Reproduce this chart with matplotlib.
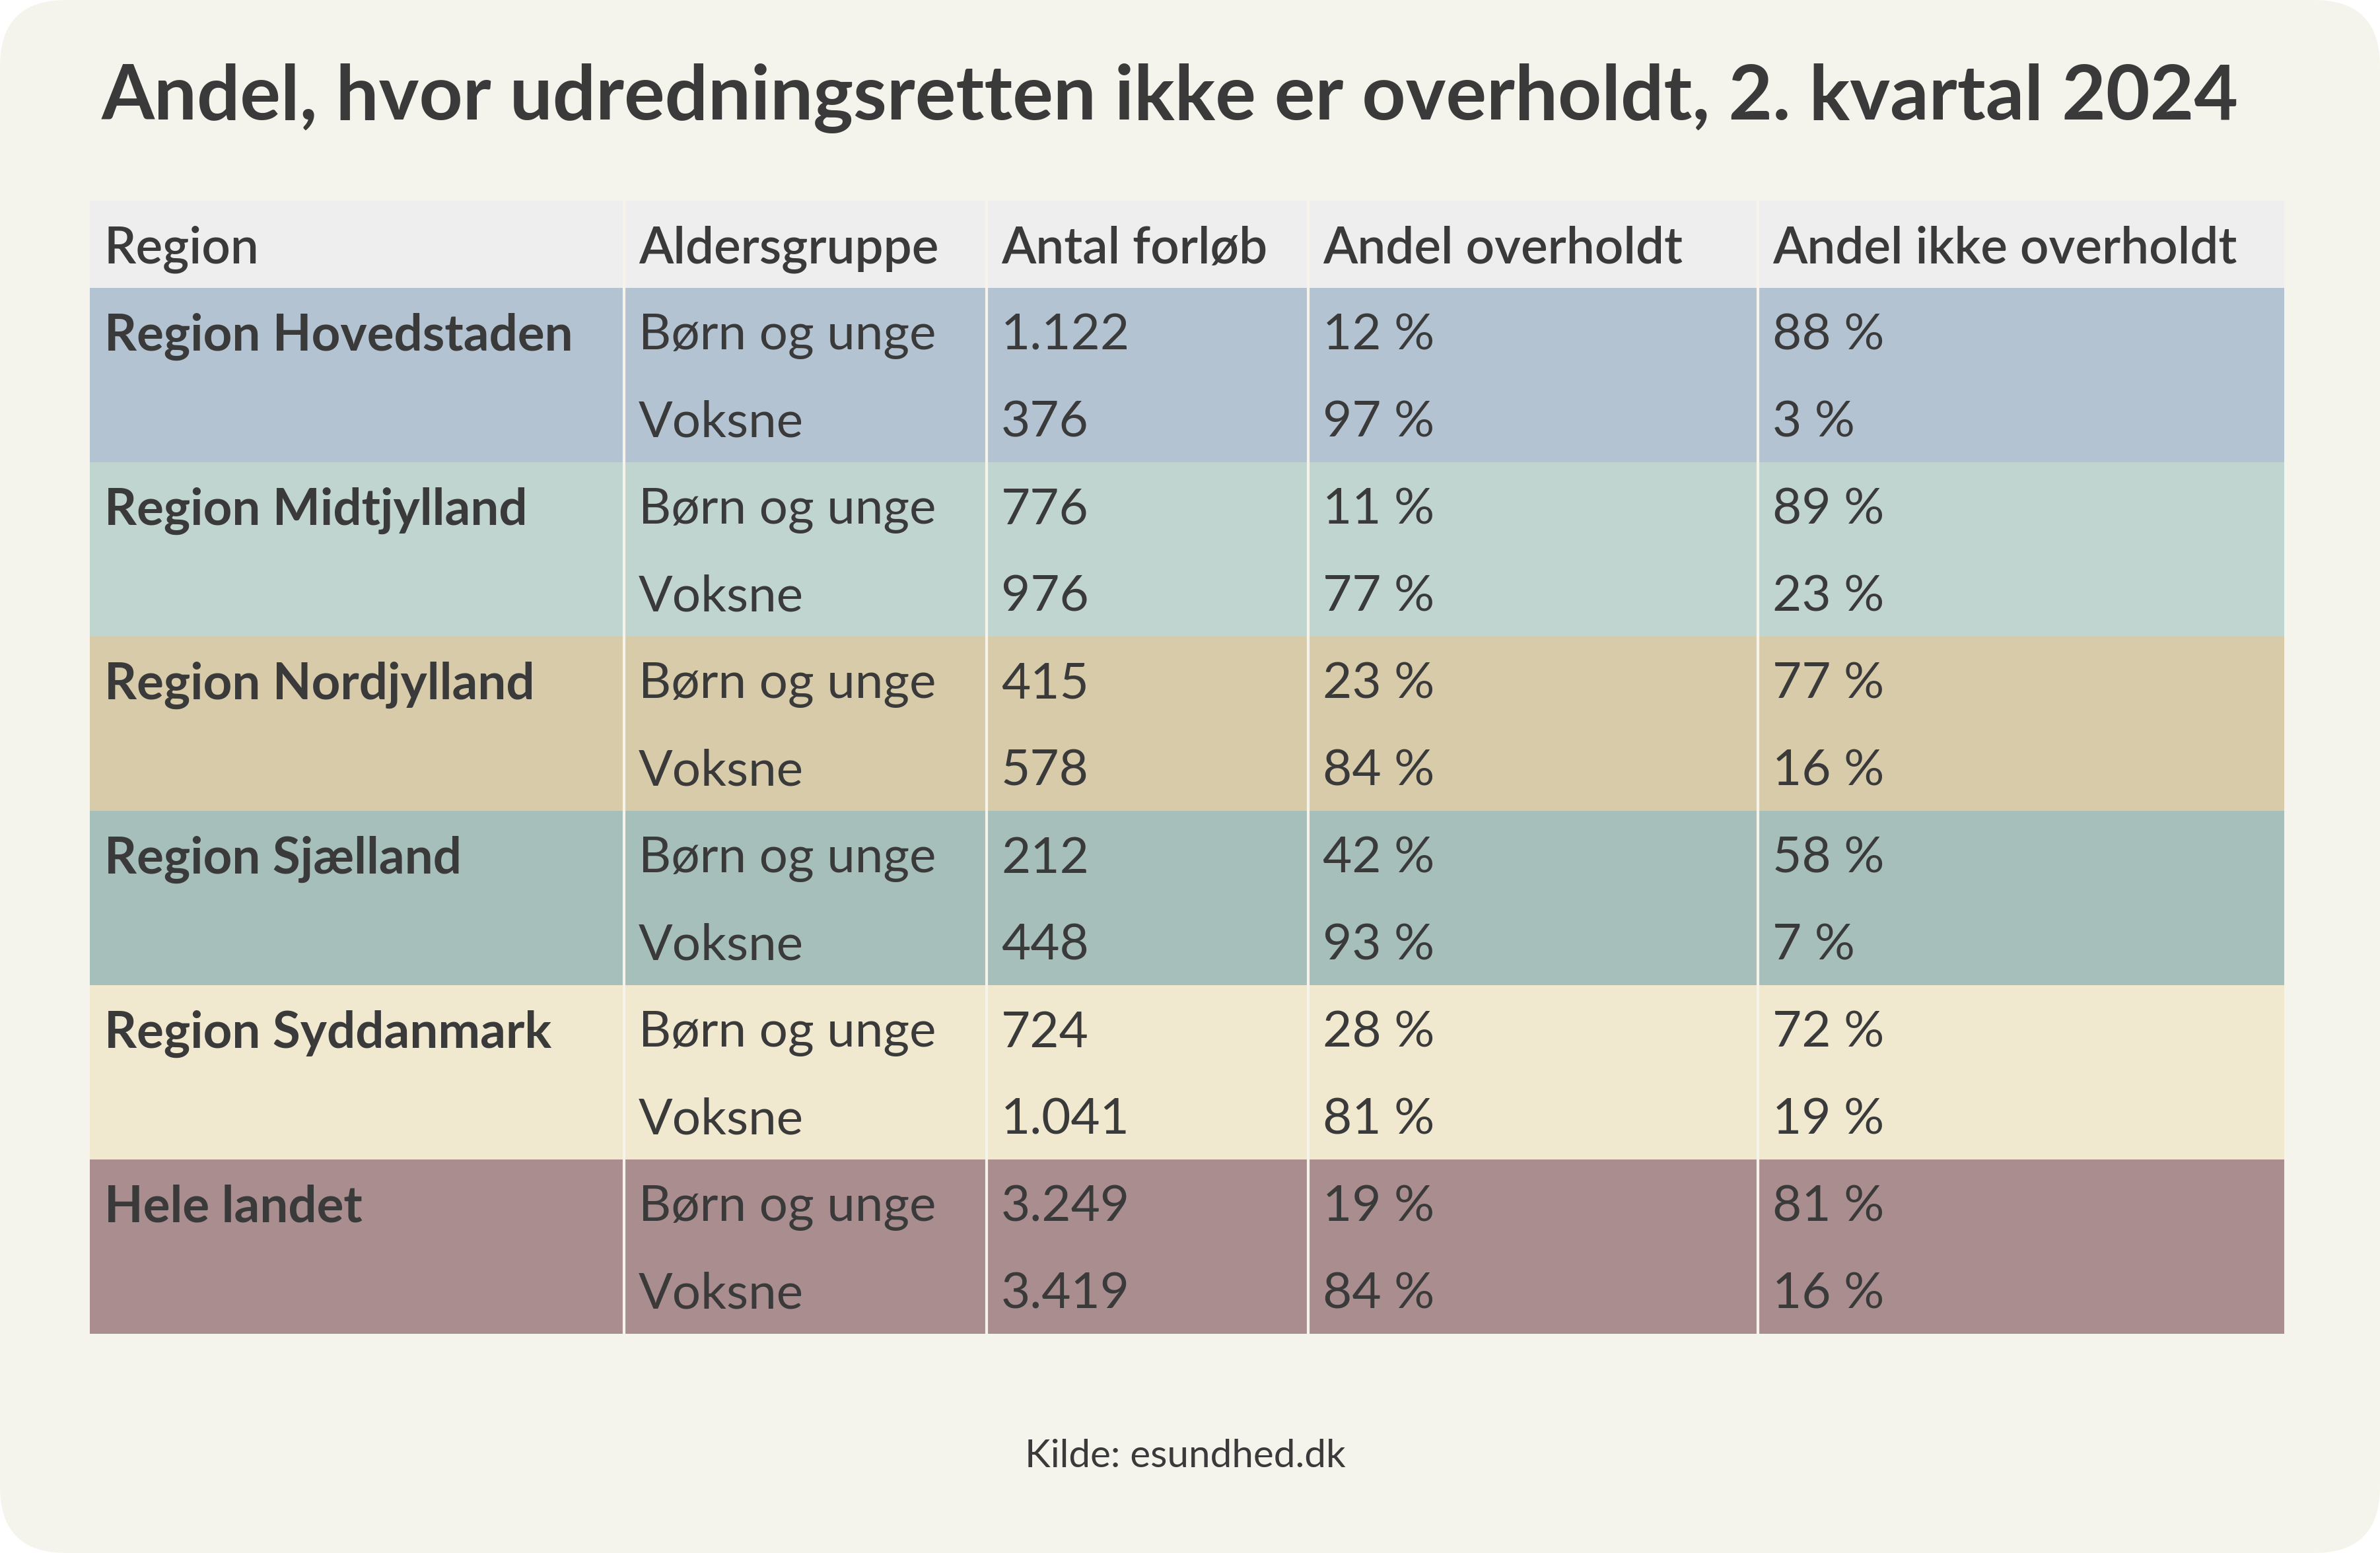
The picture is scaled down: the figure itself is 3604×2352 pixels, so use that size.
import matplotlib.pyplot as plt
from matplotlib.patches import Rectangle, FancyBboxPatch

plt.rcParams['font.family'] = ['Lato', 'DejaVu Sans']

# Data
title = "Andel, hvor udredningsretten ikke er overholdt, 2. kvartal 2024"
source = "Kilde: esundhed.dk"
columns = ["Region", "Aldersgruppe", "Antal forløb", "Andel overholdt", "Andel ikke overholdt"]
regions = ["Region Hovedstaden", "Region Midtjylland", "Region Nordjylland",
           "Region Sjælland", "Region Syddanmark", "Hele landet"]
age_groups = ["Børn og unge", "Voksne"]
antal = [["1.122", "376"], ["776", "976"], ["415", "578"],
         ["212", "448"], ["724", "1.041"], ["3.249", "3.419"]]
overholdt = [["12 %", "97 %"], ["11 %", "77 %"], ["23 %", "84 %"],
             ["42 %", "93 %"], ["28 %", "81 %"], ["19 %", "84 %"]]
ikke_overholdt = [["88 %", "3 %"], ["89 %", "23 %"], ["77 %", "16 %"],
                  ["58 %", "7 %"], ["72 %", "19 %"], ["81 %", "16 %"]]
region_colors = ["#B3C3D2", "#C1D5D0", "#D8CBAA", "#A6BFBA", "#F0E8CF", "#AA8E8F"]

# Layout (pixels)
W, H = 3604, 2352
col_edges = [136, 945, 1494, 1981, 2662, 3459]
header_top, header_h, row_h = 304, 132, 132
pad = 22
text_color = "#3A3A3A"
card_color = "#F5F4EC"
header_color = "#EEEEEE"
line_color = "#F6F4EA"

fig = plt.figure(figsize=(W / 200, H / 200), dpi=200)
fig.patch.set_facecolor("white")
ax = fig.add_axes([0, 0, 1, 1])
ax.set_xlim(0, W)
ax.set_ylim(H, 0)
ax.axis("off")

# card background with rounded corners
card = FancyBboxPatch((100, 100), W - 200, H - 200,
                      boxstyle="round,pad=100,rounding_size=100",
                      facecolor=card_color, edgecolor="none")
ax.add_patch(card)

ax.text(154, 149, title, fontsize=41.5, fontweight="bold", color=text_color,
        ha="left", va="center")

# header
x0, x1 = col_edges[0], col_edges[-1]
ax.add_patch(Rectangle((x0, header_top), x1 - x0, header_h, facecolor=header_color, edgecolor="none"))
for i, c in enumerate(columns):
    ax.text(col_edges[i] + pad, header_top + header_h / 2, c, fontsize=27.5,
            fontweight="semibold", color=text_color, ha="left", va="center_baseline")

# body
y = header_top + header_h
for r, reg in enumerate(regions):
    ax.add_patch(Rectangle((x0, y), x1 - x0, 2 * row_h, facecolor=region_colors[r], edgecolor="none"))
    ax.text(col_edges[0] + pad, y + row_h / 2, reg, fontsize=27.5, fontweight="bold",
            color=text_color, ha="left", va="center_baseline")
    for k in range(2):
        yc = y + row_h * k + row_h / 2
        vals = [age_groups[k], antal[r][k], overholdt[r][k], ikke_overholdt[r][k]]
        for j, v in enumerate(vals):
            ax.text(col_edges[j + 1] + pad, yc, v, fontsize=27.5, fontweight="normal",
                    color=text_color, ha="left", va="center_baseline")
    y += 2 * row_h

# column separators
for xe in col_edges[1:-1]:
    ax.plot([xe, xe], [header_top, y], color=line_color, lw=1.5, solid_capstyle="butt")

ax.text(1795, 2200, source, fontsize=21, color=text_color, ha="center", va="center_baseline")

fig.savefig("out.png", dpi=200, facecolor=fig.get_facecolor())
